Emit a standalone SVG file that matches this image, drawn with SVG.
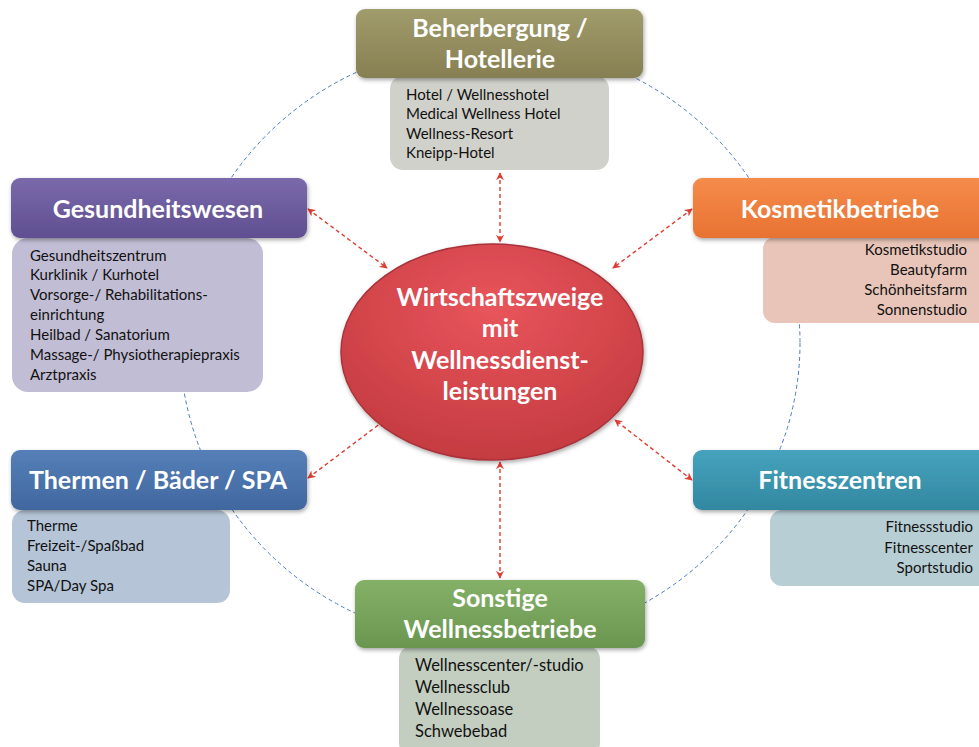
<svg xmlns="http://www.w3.org/2000/svg" width="979" height="747" viewBox="0 0 979 747">
<style>
.hd{font-family:Lato,"Open Sans","Liberation Sans",sans-serif;font-weight:bold;font-size:25px;fill:#fff}
.it{font-family:Lato,"Open Sans","Liberation Sans",sans-serif;font-size:15px;fill:#111}
.big{font-size:16.5px}
.r{text-anchor:end}
.c{text-anchor:middle}
.arr{stroke:#e03c31;stroke-width:1.4;stroke-dasharray:4 3;fill:none;marker-start:url(#ah);marker-end:url(#ah)}
</style>
<defs>
<marker id="ah" viewBox="0 0 10 10" refX="9" refY="5" markerWidth="8" markerHeight="8" orient="auto-start-reverse" markerUnits="userSpaceOnUse">
<path d="M0,0 L10,5 L0,10 L3,5 z" fill="#e03c31"/>
</marker>
<filter id="sh" x="-10%" y="-10%" width="120%" height="130%">
<feDropShadow dx="1" dy="2" stdDeviation="2" flood-color="#000" flood-opacity="0.35"/>
</filter>
<linearGradient id="gO" x1="0" y1="0" x2="0" y2="1"><stop offset="0" stop-color="#a19c6c"/><stop offset="1" stop-color="#867f52"/></linearGradient>
<linearGradient id="gP" x1="0" y1="0" x2="0" y2="1"><stop offset="0" stop-color="#7a69ab"/><stop offset="1" stop-color="#5f4f91"/></linearGradient>
<linearGradient id="gOr" x1="0" y1="0" x2="0" y2="1"><stop offset="0" stop-color="#f58c4b"/><stop offset="1" stop-color="#e87232"/></linearGradient>
<linearGradient id="gB" x1="0" y1="0" x2="0" y2="1"><stop offset="0" stop-color="#557fb8"/><stop offset="1" stop-color="#41679f"/></linearGradient>
<linearGradient id="gT" x1="0" y1="0" x2="0" y2="1"><stop offset="0" stop-color="#46a3bd"/><stop offset="1" stop-color="#3287a0"/></linearGradient>
<linearGradient id="gG" x1="0" y1="0" x2="0" y2="1"><stop offset="0" stop-color="#84b067"/><stop offset="1" stop-color="#6a9650"/></linearGradient>
<radialGradient id="gR" cx="0.5" cy="0.3" r="0.75"><stop offset="0" stop-color="#e8555b"/><stop offset="1" stop-color="#c2393f"/></radialGradient>
</defs>

<ellipse cx="490" cy="343" rx="310" ry="300" fill="none" stroke="#4a78c4" stroke-width="1" stroke-dasharray="4 3"/>

<g id="connectors">
<path class="arr" d="M500,173 L500,242"/>
<path class="arr" d="M500,462 L500,578"/>
<path class="arr" d="M308,209 L387,268"/>
<path class="arr" d="M692,209 L613,268"/>
<path class="arr" d="M308,478 L385,420"/>
<path class="arr" d="M692,480 L615,420"/>
</g>

<g id="center">
<ellipse cx="492" cy="352" rx="151" ry="108" fill="url(#gR)" stroke="#a8333a" stroke-width="1.5" filter="url(#sh)"/>
<text class="hd c" x="500" y="306">Wirtschaftszweige</text>
<text class="hd c" x="500" y="337">mit</text>
<text class="hd c" x="500" y="369">Wellnessdienst-</text>
<text class="hd c" x="500" y="400">leistungen</text>
</g>

<g id="beherbergung">
<rect x="390" y="76" width="219" height="94" rx="13" fill="#cfcfc8" opacity="0.95"/>
<rect x="356" y="9" width="287" height="69" rx="9" fill="url(#gO)" filter="url(#sh)"/>
<text class="hd c" x="500" y="37">Beherbergung /</text>
<text class="hd c" x="500" y="68">Hotellerie</text>
<text class="it" x="406" y="100">Hotel / Wellnesshotel</text>
<text class="it" x="406" y="119">Medical Wellness Hotel</text>
<text class="it" x="406" y="139">Wellness-Resort</text>
<text class="it" x="406" y="158">Kneipp-Hotel</text>
</g>

<g id="gesundheitswesen">
<rect x="12" y="238" width="251" height="154" rx="16" fill="#c1bdd5"/>
<rect x="11" y="178" width="296" height="60" rx="9" fill="url(#gP)" filter="url(#sh)"/>
<text class="hd c" x="158" y="218">Gesundheitswesen</text>
<text class="it" x="30" y="261">Gesundheitszentrum</text>
<text class="it" x="30" y="280">Kurklinik / Kurhotel</text>
<text class="it" x="30" y="300">Vorsorge-/ Rehabilitations-</text>
<text class="it" x="30" y="320">einrichtung</text>
<text class="it" x="30" y="340">Heilbad / Sanatorium</text>
<text class="it" x="30" y="360">Massage-/ Physiotherapiepraxis</text>
<text class="it" x="30" y="380">Arztpraxis</text>
</g>

<g id="kosmetik">
<rect x="763" y="237" width="230" height="86" rx="12" fill="#e8c5b8"/>
<rect x="693" y="178" width="300" height="60" rx="9" fill="url(#gOr)" filter="url(#sh)"/>
<text class="hd c" x="840" y="218">Kosmetikbetriebe</text>
<text class="it r" x="967" y="255">Kosmetikstudio</text>
<text class="it r" x="967" y="275">Beautyfarm</text>
<text class="it r" x="967" y="295">Schönheitsfarm</text>
<text class="it r" x="967" y="315">Sonnenstudio</text>
</g>

<g id="thermen">
<rect x="12" y="510" width="218" height="93" rx="13" fill="#b5c4d6"/>
<rect x="11" y="450" width="296" height="60" rx="9" fill="url(#gB)" filter="url(#sh)"/>
<text class="hd c" x="158" y="489">Thermen / Bäder / SPA</text>
<text class="it" x="27" y="531">Therme</text>
<text class="it" x="27" y="551">Freizeit-/Spaßbad</text>
<text class="it" x="27" y="571">Sauna</text>
<text class="it" x="27" y="591">SPA/Day Spa</text>
</g>

<g id="fitness">
<rect x="770" y="510" width="223" height="76" rx="12" fill="#b7ced5"/>
<rect x="693" y="450" width="300" height="60" rx="9" fill="url(#gT)" filter="url(#sh)"/>
<text class="hd c" x="840" y="489">Fitnesszentren</text>
<text class="it r" x="973" y="532">Fitnessstudio</text>
<text class="it r" x="973" y="553">Fitnesscenter</text>
<text class="it r" x="973" y="573">Sportstudio</text>
</g>

<g id="sonstige">
<rect x="399" y="646" width="201" height="110" rx="13" fill="#c3cec0"/>
<rect x="355" y="580" width="290" height="68" rx="9" fill="url(#gG)" filter="url(#sh)"/>
<text class="hd c" x="500" y="607">Sonstige</text>
<text class="hd c" x="500" y="638">Wellnessbetriebe</text>
<text class="it big" x="415" y="671">Wellnesscenter/-studio</text>
<text class="it big" x="415" y="693">Wellnessclub</text>
<text class="it big" x="415" y="715">Wellnessoase</text>
<text class="it big" x="415" y="737">Schwebebad</text>
</g>
</svg>
